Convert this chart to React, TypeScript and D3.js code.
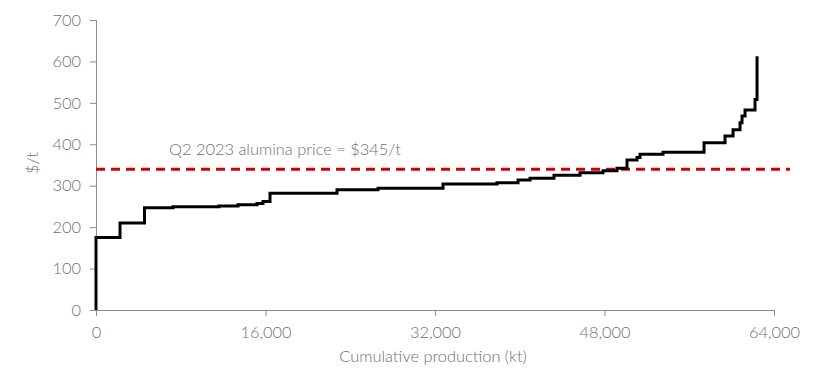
import React, { useEffect, useRef } from "react";
import * as d3 from "d3";

// Cumulative production (kt) at which each cost level starts
const cumulativeKt = [
  0, 0, 2266, 4578, 7269, 11611, 13405, 15198, 15765, 16426, 22750, 26621,
  32757, 37854, 39836, 40970, 43235, 45690, 47861, 49182, 50126, 51070, 51354,
  53525, 57395, 59378, 60133, 60794, 60983, 61266, 62210, 62399, 62550,
];
// Cost ($/t) from that point onward
const costPerT = [
  0, 175, 210, 247, 249, 251, 254, 257, 262, 282, 290, 294, 304, 307, 314, 318,
  325, 331, 336, 342, 362, 368, 376, 381, 404, 420, 435, 452, 468, 483, 508,
  609, 609,
];
const xTicks = [0, 16000, 32000, 48000, 64000];
const yTicks = [0, 100, 200, 300, 400, 500, 600, 700];
const priceLine = 340;
const priceLabel = "Q2 2023 alumina price = $345/t";
const xTitle = "Cumulative production (kt)";
const yTitle = "$/t";

const W = 840;
const H = 370;
const FONT = "Lato, 'Open Sans', sans-serif";
const GREY = "#707070";
const FS = 16.4;

export default function App() {
  const ref = useRef<SVGSVGElement>(null);

  useEffect(() => {
    const svg = d3.select(ref.current);
    svg.selectAll("*").remove();

    const x = d3.scaleLinear().domain([0, 64000]).range([96, 774]);
    const y = d3.scaleLinear().domain([0, 700]).range([310, 20]);

    // Y axis
    const ya = svg
      .append("g")
      .attr("transform", `translate(${x(0)},0)`)
      .call(
        d3
          .axisLeft(y)
          .tickValues(yTicks)
          .tickSize(6)
          .tickPadding(9)
          .tickFormat((d) => String(d))
      );
    ya.select(".domain").attr("stroke", "#8c8c8c").attr("stroke-width", 1);
    ya.selectAll(".tick line").attr("stroke", "#8c8c8c");
    ya.selectAll(".tick text")
      .attr("fill", GREY)
      .attr("font-family", FONT)
      .attr("font-weight", 300)
      .attr("font-size", FS);

    // X axis
    const xa = svg
      .append("g")
      .attr("transform", `translate(0,${y(0)})`)
      .call(
        d3
          .axisBottom(x)
          .tickValues(xTicks)
          .tickSize(6)
          .tickPadding(10)
          .tickFormat((d) => d3.format(",")(d as number))
      );
    xa.select(".domain").attr("stroke", "#8c8c8c").attr("stroke-width", 1);
    xa.selectAll(".tick line").attr("stroke", "#8c8c8c");
    xa.selectAll(".tick text")
      .attr("fill", GREY)
      .attr("font-family", FONT)
      .attr("font-weight", 300)
      .attr("font-size", FS);

    // Price line
    svg
      .append("line")
      .attr("x1", x(0))
      .attr("x2", 790)
      .attr("y1", y(priceLine))
      .attr("y2", y(priceLine))
      .attr("stroke", "#d40000")
      .attr("stroke-width", 3)
      .attr("stroke-dasharray", "9,6");

    svg
      .append("text")
      .attr("x", 169)
      .attr("y", 155)
      .attr("fill", GREY)
      .attr("font-family", FONT)
      .attr("font-weight", 300)
      .attr("font-size", FS)
      .text(priceLabel);

    // Cost curve
    const pts = cumulativeKt.map((c, i) => [c, costPerT[i]] as [number, number]);
    const line = d3
      .line<[number, number]>()
      .x((d) => x(d[0]))
      .y((d) => y(d[1]))
      .curve(d3.curveStepAfter);
    svg
      .append("path")
      .attr("d", line(pts))
      .attr("fill", "none")
      .attr("stroke", "#000")
      .attr("stroke-width", 3);

    // Titles
    svg
      .append("text")
      .attr("x", 433)
      .attr("y", 362)
      .attr("text-anchor", "middle")
      .attr("fill", GREY)
      .attr("font-family", FONT)
      .attr("font-weight", 300)
      .attr("font-size", FS)
      .text(xTitle);
    svg
      .append("text")
      .attr("transform", `translate(38,163) rotate(-90)`)
      .attr("text-anchor", "middle")
      .attr("fill", GREY)
      .attr("font-family", FONT)
      .attr("font-weight", 300)
      .attr("font-size", FS)
      .text(yTitle);
  }, []);

  return (
    <svg
      ref={ref}
      width={W}
      height={H}
      style={{ position: "absolute", left: 0, top: 0, display: "block" }}
    />
  );
}
